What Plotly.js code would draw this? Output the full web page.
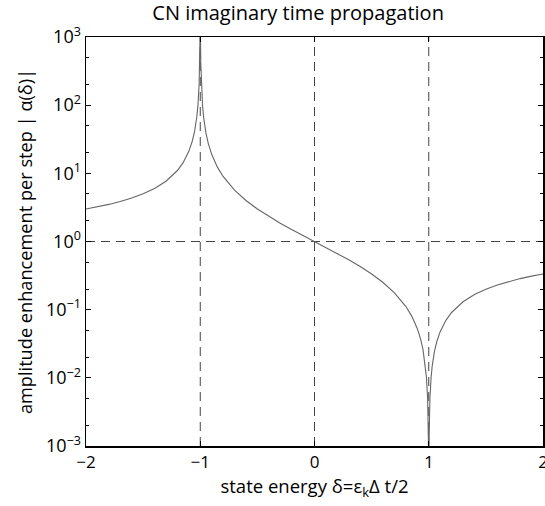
<!DOCTYPE html>
<html>
<head>
<meta charset="utf-8">
<script src="https://cdn.plot.ly/plotly-3.0.1.min.js"></script>
<style>html,body{margin:0;padding:0;background:#fff;}#chart{width:545px;height:506px;}</style>
</head>
<body>
<div id="chart"></div>
<script>
// state energy delta (x) and amplitude enhancement |alpha(delta)| (y)
const delta = [-2, -1.9, -1.8, -1.7, -1.6, -1.5, -1.4, -1.3, -1.2, -1.15, -1.1, -1.07, -1.05, -1.03, -1.02, -1.01, -1.005, -1.002,
  -0.998, -0.995, -0.99, -0.98, -0.97, -0.95, -0.93, -0.9, -0.85, -0.8, -0.7, -0.6, -0.5, -0.4, -0.3, -0.2, -0.1,
  0, 0.1, 0.2, 0.3, 0.4, 0.5, 0.6, 0.7, 0.8, 0.85, 0.9, 0.93, 0.95, 0.97, 0.98, 0.99, 0.995, 0.998, 0.999,
  1.001, 1.002, 1.005, 1.01, 1.02, 1.03, 1.05, 1.07, 1.1, 1.15, 1.2, 1.3, 1.4, 1.5, 1.6, 1.7, 1.8, 1.9, 2];
const alpha = [3, 3.222, 3.5, 3.857, 4.333, 5, 6, 7.667, 11, 14.33, 21, 29.57, 41, 67.67, 101, 201, 401, 1001,
  999, 399, 199, 99, 65.67, 39, 27.57, 19, 12.33, 9, 5.667, 4, 3, 2.333, 1.857, 1.5, 1.222,
  1, 0.8182, 0.6667, 0.5385, 0.4286, 0.3333, 0.25, 0.1765, 0.1111, 0.08108, 0.05263, 0.03627, 0.02564, 0.01523, 0.0101, 0.005025, 0.002506, 0.001001, 0.0005,
  0.0005, 0.000999, 0.002494, 0.004975, 0.0099, 0.01478, 0.02439, 0.03382, 0.04762, 0.06977, 0.09091, 0.1304, 0.1667, 0.2, 0.2308, 0.2593, 0.2857, 0.3103, 0.3333];

// reference lines
const vLineX = [-1, 0, 1];
const hLineY = [1];
const xRange = [-2, 2];
const yRangeVals = [0.001, 1000];
const xTicks = [-2, -1, 0, 1, 2];
const xTickText = ['\u22122', '\u22121', '0', '1', '2'];
const yTicks = [0.001, 0.01, 0.1, 1, 10, 100, 1000];
const yTickText = ['10<sup>\u22123</sup>', '10<sup>\u22122</sup>', '10<sup>\u22121</sup>', '10<sup>0</sup>', '10<sup>1</sup>', '10<sup>2</sup>', '10<sup>3</sup>'];

const dashStyle = {color: '#444', width: 1, dash: '9px,6px'};
const traces = [];
vLineX.forEach(v => traces.push({x: [v, v], y: yRangeVals, mode: 'lines', line: dashStyle, hoverinfo: 'skip', showlegend: false}));
hLineY.forEach(v => traces.push({x: xRange, y: [v, v], mode: 'lines', line: dashStyle, hoverinfo: 'skip', showlegend: false}));
traces.push({x: delta, y: alpha, mode: 'lines', line: {color: '#666', width: 1.1}, showlegend: false});

const font = {family: 'Open Sans, sans-serif', size: 17, color: '#000'};
const layout = {
  width: 545, height: 506,
  margin: {l: 86, r: 2, t: 37, b: 60},
  paper_bgcolor: '#fff', plot_bgcolor: '#fff',
  font: font,
  title: {text: 'CN imaginary time propagation', font: {family: font.family, size: 20, color: '#000'}, x: 0.547, xanchor: 'center', y: 0.974, yref: 'container', yanchor: 'middle'},
  xaxis: {
    range: xRange, tickvals: xTicks, ticktext: xTickText,
    showline: true, linecolor: '#000', linewidth: 1.5, mirror: 'ticks',
    ticks: 'inside', ticklen: 5, tickcolor: '#000', showgrid: false, zeroline: false,
    tickfont: {size: 17, color: '#000'}, ticklabeloverflow: 'allow',
    title: {text: 'state energy \u03b4=\u03b5<sub><span style="color:#000">k</span></sub>\u0394 t/2', font: {size: 18.5, color: '#000'}, standoff: 2}
  },
  yaxis: {
    type: 'log', range: [-3, 3], tickvals: yTicks, ticktext: yTickText,
    showline: true, linecolor: '#000', linewidth: 1.5, mirror: 'ticks',
    ticks: 'inside', ticklen: 5, tickcolor: '#000', showgrid: false, zeroline: false,
    tickfont: {size: 18, color: '#000'},
    minor: {ticks: 'inside', ticklen: 3, tickcolor: '#000', showgrid: false},
    title: {text: 'amplitude enhancement per step | \u03b1(\u03b4)|', font: {size: 18.2, color: '#000'}, standoff: 8}
  }
};
Plotly.newPlot('chart', traces, layout, {displayModeBar: false, staticPlot: true});
</script>
</body>
</html>
